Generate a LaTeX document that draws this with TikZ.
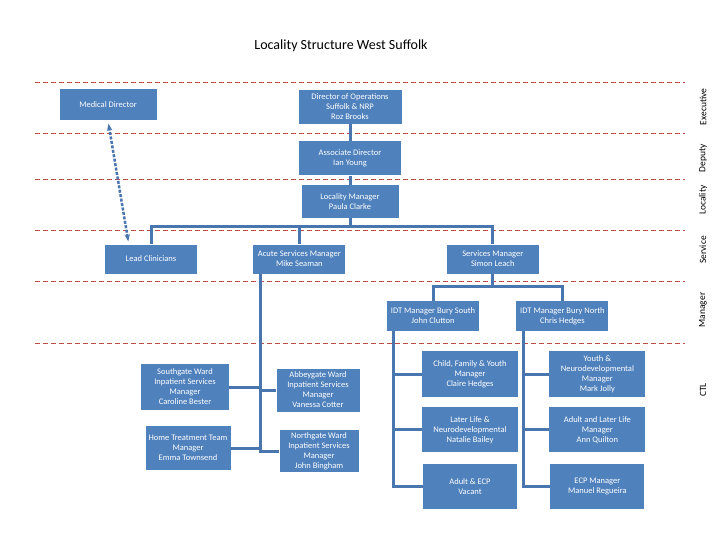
\documentclass[tikz,border=0pt]{standalone}
\usepackage{fontspec}
\setmainfont{Carlito}
\usetikzlibrary{arrows.meta,positioning}
\definecolor{boxblue}{HTML}{4F81BD}
\definecolor{linkblue}{HTML}{4A76B0}
\definecolor{bandred}{HTML}{BE4B48}

\begin{document}
\begin{tikzpicture}[x=1pt, y=1pt,
    box/.style={fill=boxblue, text=white, align=center, inner sep=2pt,
        minimum width=#1, font=\fontsize{8.5}{10}\selectfont},
    box/.default=92pt,
    link/.style={draw=linkblue, line width=3pt},
    liaison/.style={{Stealth[length=2.5mm]}-{Stealth[length=2.5mm]}, draw=linkblue,
        line width=2.5pt, dash pattern=on 3pt off 1.5pt},
    band/.style={draw=bandred, line width=0.8pt, dash pattern=on 5pt off 3pt},
    tier/.style={rotate=90, font=\fontsize{9.5}{11}\selectfont}
]
\useasboundingbox (0,0) rectangle (720,-540);

\node[font=\fontsize{14}{16}\selectfont] (title) at (341,-46) {Locality Structure West Suffolk};

\foreach \y in {82,133,179,230,281,343}
    \draw[band] (35,-\y) -- (685,-\y);
\foreach \tiername/\y in {Executive/107, Deputy/158, Locality/200, Service/250, Manager/310, CTL/390}
    \node[tier] (\tiername) at (703,-\y) {\tiername};

\node[box=97pt, minimum height=31pt] (meddir) at (108,-105) {Medical Director};
\node[box=103pt, minimum height=34pt] (ops) at (350,-107) {Director of Operations\\Suffolk \& NRP\\Roz Brooks};
\node[box=102pt, minimum height=34pt, below=17pt of ops] (assoc) {Associate Director\\Ian Young};
\node[box=97pt, minimum height=33pt, below=9pt of assoc] (loc) {Locality Manager\\Paula Clarke};
\node[box, minimum height=29pt] (lead) at (151,-259) {Lead Clinicians};
\node[box, minimum height=29pt, right=56pt of lead] (acute) {Acute Services Manager\\Mike Seaman};
\node[box, minimum height=29pt, right=101pt of acute] (serv) {Services Manager\\Simon Leach};
\node[box, minimum height=30pt] (idts) at (433,-316) {IDT Manager Bury South\\John Clutton};
\node[box, minimum height=30pt, right=37pt of idts] (idtn) {IDT Manager Bury North\\Chris Hedges};
\node[box=96pt, minimum height=46pt] (cfy) at (470,-374) {Child, Family \& Youth\\Manager\\Claire Hedges};
\node[box=96pt, minimum height=46pt, right=31pt of cfy] (ynd) {Youth \&\\Neurodevelopmental\\Manager\\Mark Jolly};
\node[box=96pt, minimum height=45pt, below=10pt of cfy] (lln) {Later Life \&\\Neurodevelopmental\\Natalie Bailey};
\node[box=96pt, minimum height=45pt, below=10pt of ynd] (all) {Adult and Later Life\\Manager\\Ann Quilton};
\node[box=94pt, minimum height=45pt, below=11pt of lln] (aecp) {Adult \& ECP\\Vacant};
\node[box=94pt, minimum height=45pt, below=11pt of all] (ecp) {ECP Manager\\Manuel Regueira};
\node[box=88pt, minimum height=46pt] (southg) at (185,-387) {Southgate Ward\\Inpatient Services\\Manager\\Caroline Bester};
\node[box=83pt, minimum height=43pt] (abbeyg) at (318,-390) {Abbeygate Ward\\Inpatient Services\\Manager\\Vanessa Cotter};
\node[box=85pt, minimum height=44pt] (htt) at (188,-448) {Home Treatment Team\\Manager\\Emma Townsend};
\node[box=79pt, minimum height=41pt] (northg) at (319,-451) {Northgate Ward\\Inpatient Services\\Manager\\John Bingham};

\draw[link] (ops) -- (assoc);
\draw[link] (assoc) -- (loc);
\draw[link] (loc.south) -- ++(0,-9) coordinate (lochub);
\draw[link] (lochub) -| (lead.north);
\draw[link] (lochub) -| (acute.north);
\draw[link] (lochub) -| (serv.north);

\draw[link] ([xshift=7pt]acute.south west) coordinate (acutetrunk) |- (northg.west);
\draw[link] (southg.east) -- (southg.east -| acutetrunk);
\draw[link] (abbeyg.west) -- (abbeyg.west -| acutetrunk);
\draw[link] (htt.east) -- (htt.east -| acutetrunk);

\draw[link] (serv.south) -- ++(0,-13) coordinate (servhub);
\draw[link] (servhub) -| (idts.north);
\draw[link] (servhub) -| (idtn.north);
\draw[link] ([xshift=7pt]idts.south west) coordinate (southtrunk) |- (aecp.west);
\draw[link] (cfy.west) -- (cfy.west -| southtrunk);
\draw[link] (lln.west) -- (lln.west -| southtrunk);
\draw[link] ([xshift=7pt]idtn.south west) coordinate (northtrunk) |- (ecp.west);
\draw[link] (ynd.west) -- (ynd.west -| northtrunk);
\draw[link] (all.west) -- (all.west -| northtrunk);

\draw[liaison, shorten >=3pt, shorten <=3pt] ([xshift=24pt]lead.north west) -- (meddir.south);
\end{tikzpicture}
\end{document}
